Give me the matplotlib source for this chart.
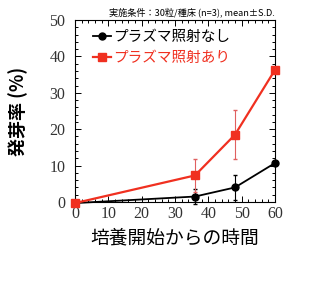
import matplotlib
matplotlib.use("Agg")
import matplotlib.pyplot as plt
from matplotlib.ticker import MultipleLocator
from matplotlib.lines import Line2D

# data
hours = [0, 36, 48, 60]
no_plasma = [-0.3, 1.5, 4.0, 10.7]
no_plasma_err = [0, 2.0, 3.5, 0]
plasma = [-0.3, 7.3, 18.5, 36.3]
plasma_err = [0, 4.5, 6.8, 0]
labels = ["プラズマ照射なし", "プラズマ照射あり"]

RED = "#f03020"
JP = ["Noto Sans CJK JP", "DejaVu Sans"]
SERIF = "Liberation Serif"

fig = plt.figure(figsize=(3.27, 2.86), dpi=100)
ax = fig.add_axes([75 / 327, 1 - 202 / 286, 200 / 327, 182 / 286])

ax.errorbar(hours, no_plasma, yerr=no_plasma_err, color="black", marker="o",
            markersize=5, linewidth=1.3, elinewidth=0.8, capsize=1.5,
            clip_on=False, zorder=3)
ax.errorbar(hours, plasma, yerr=plasma_err, color=RED, marker="s",
            markersize=6, linewidth=1.6, elinewidth=0.8, capsize=1.5,
            ecolor="#e06060", clip_on=False, zorder=4)

ax.set_xlim(0, 60)
ax.set_ylim(0, 50)
ax.xaxis.set_major_locator(MultipleLocator(10))
ax.xaxis.set_minor_locator(MultipleLocator(2))
ax.yaxis.set_major_locator(MultipleLocator(10))
ax.yaxis.set_minor_locator(MultipleLocator(2))
ax.tick_params(which="both", direction="in", top=True, right=True,
               labelsize=11.5, width=0.7)
ax.tick_params(which="major", length=4)
ax.tick_params(which="minor", length=2)
ax.tick_params(axis="y", pad=7)
ax.tick_params(axis="x", pad=3)
for lab in ax.get_xticklabels() + ax.get_yticklabels():
    lab.set_family(SERIF)
    lab.set_color("#333333")
for s in ax.spines.values():
    s.set_linewidth(0.8)

ax.set_xlabel("培養開始からの時間", family=JP, fontsize=13.5, labelpad=4)
ax.set_ylabel("発芽率 (%)", family=JP, fontsize=13, fontweight="bold")
ax.yaxis.set_label_coords(-0.235, 0.5)

ax.text(1.0, 1.015, "実施条件：30粒/種床 (n=3), mean±S.D.", transform=ax.transAxes,
        ha="right", va="bottom", family=JP, fontsize=6.6)

handles = [Line2D([], [], color="black", marker="o", markersize=5, linewidth=1.3),
           Line2D([], [], color=RED, marker="s", markersize=6, linewidth=1.6)]
leg = ax.legend(handles, labels, loc="upper left", frameon=False,
                prop={"family": JP, "size": 10.5},
                handlelength=1.2, handletextpad=0.15, borderaxespad=0.3,
                labelspacing=0.45, bbox_to_anchor=(0.04, 1.0))
for txt, c in zip(leg.get_texts(), ["black", RED]):
    txt.set_color(c)

fig.savefig("out.png", dpi=100)
